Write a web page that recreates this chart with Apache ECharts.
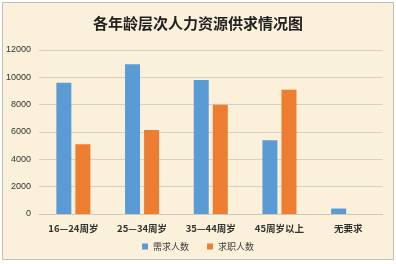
<!DOCTYPE html>
<html>
<head>
<meta charset="utf-8">
<script src="https://cdn.jsdelivr.net/npm/echarts@6/dist/echarts.min.js"></script>
<style>
html,body{margin:0;padding:0;background:#ffffff;}
#frame{position:absolute;left:2px;top:2px;width:390px;height:256px;border:1px solid #bfbfbf;background:#fbf0da;}
#chart{width:390px;height:256px;}
</style>
</head>
<body>
<div id="frame"><div id="chart"></div></div>
<script>
// Age groups and headcounts
const categories = ['16—24周岁', '25—34周岁', '35—44周岁', '45周岁以上', '无要求'];
const demand = [9600, 10950, 9800, 5400, 400];   // 需求人数
const seekers = [5100, 6150, 8000, 9100, 0];     // 求职人数
const yTicks = [0, 2000, 4000, 6000, 8000, 10000, 12000];

const chart = echarts.init(document.getElementById('chart'));
chart.setOption({
  backgroundColor: 'transparent',
  animation: false,
  title: {
    text: '各年龄层次人力资源供求情况图',
    left: 'center',
    top: 8,
    textStyle: {fontSize: 15, fontWeight: 'bold', color: '#222', fontFamily: 'Noto Sans CJK SC'}
  },
  legend: {
    bottom: 3,
    left: 'center',
    itemWidth: 6,
    itemHeight: 6,
    itemGap: 18,
    icon: 'rect',
    textStyle: {fontSize: 9, color: '#404040', fontFamily: 'Noto Sans CJK SC'},
    data: ['需求人数', '求职人数']
  },
  grid: {left: 35.5, right: 10.5, top: 47, bottom: 45},
  xAxis: {
    type: 'category',
    data: categories,
    axisTick: {show: false},
    axisLine: {lineStyle: {color: '#d0c8b8'}},
    axisLabel: {fontSize: 9.5, color: '#333', margin: 10, fontFamily: 'Noto Sans CJK SC', fontWeight: 'bold'}
  },
  yAxis: {
    type: 'value',
    min: yTicks[0],
    max: yTicks[yTicks.length - 1],
    interval: 2000,
    axisLine: {show: false},
    axisTick: {show: false},
    splitLine: {lineStyle: {color: '#d6d0c4'}},
    axisLabel: {fontSize: 9, color: '#333', margin: 8, fontFamily: 'Liberation Sans', formatter: v => String(v)}
  },
  series: [
    {
      name: '需求人数', type: 'bar', data: demand,
      barWidth: 15, barGap: '27%',
      itemStyle: {color: '#5b9bd5'}
    },
    {
      name: '求职人数', type: 'bar', data: seekers,
      barWidth: 15,
      itemStyle: {color: '#ed7d31'}
    }
  ]
});
</script>
</body>
</html>
